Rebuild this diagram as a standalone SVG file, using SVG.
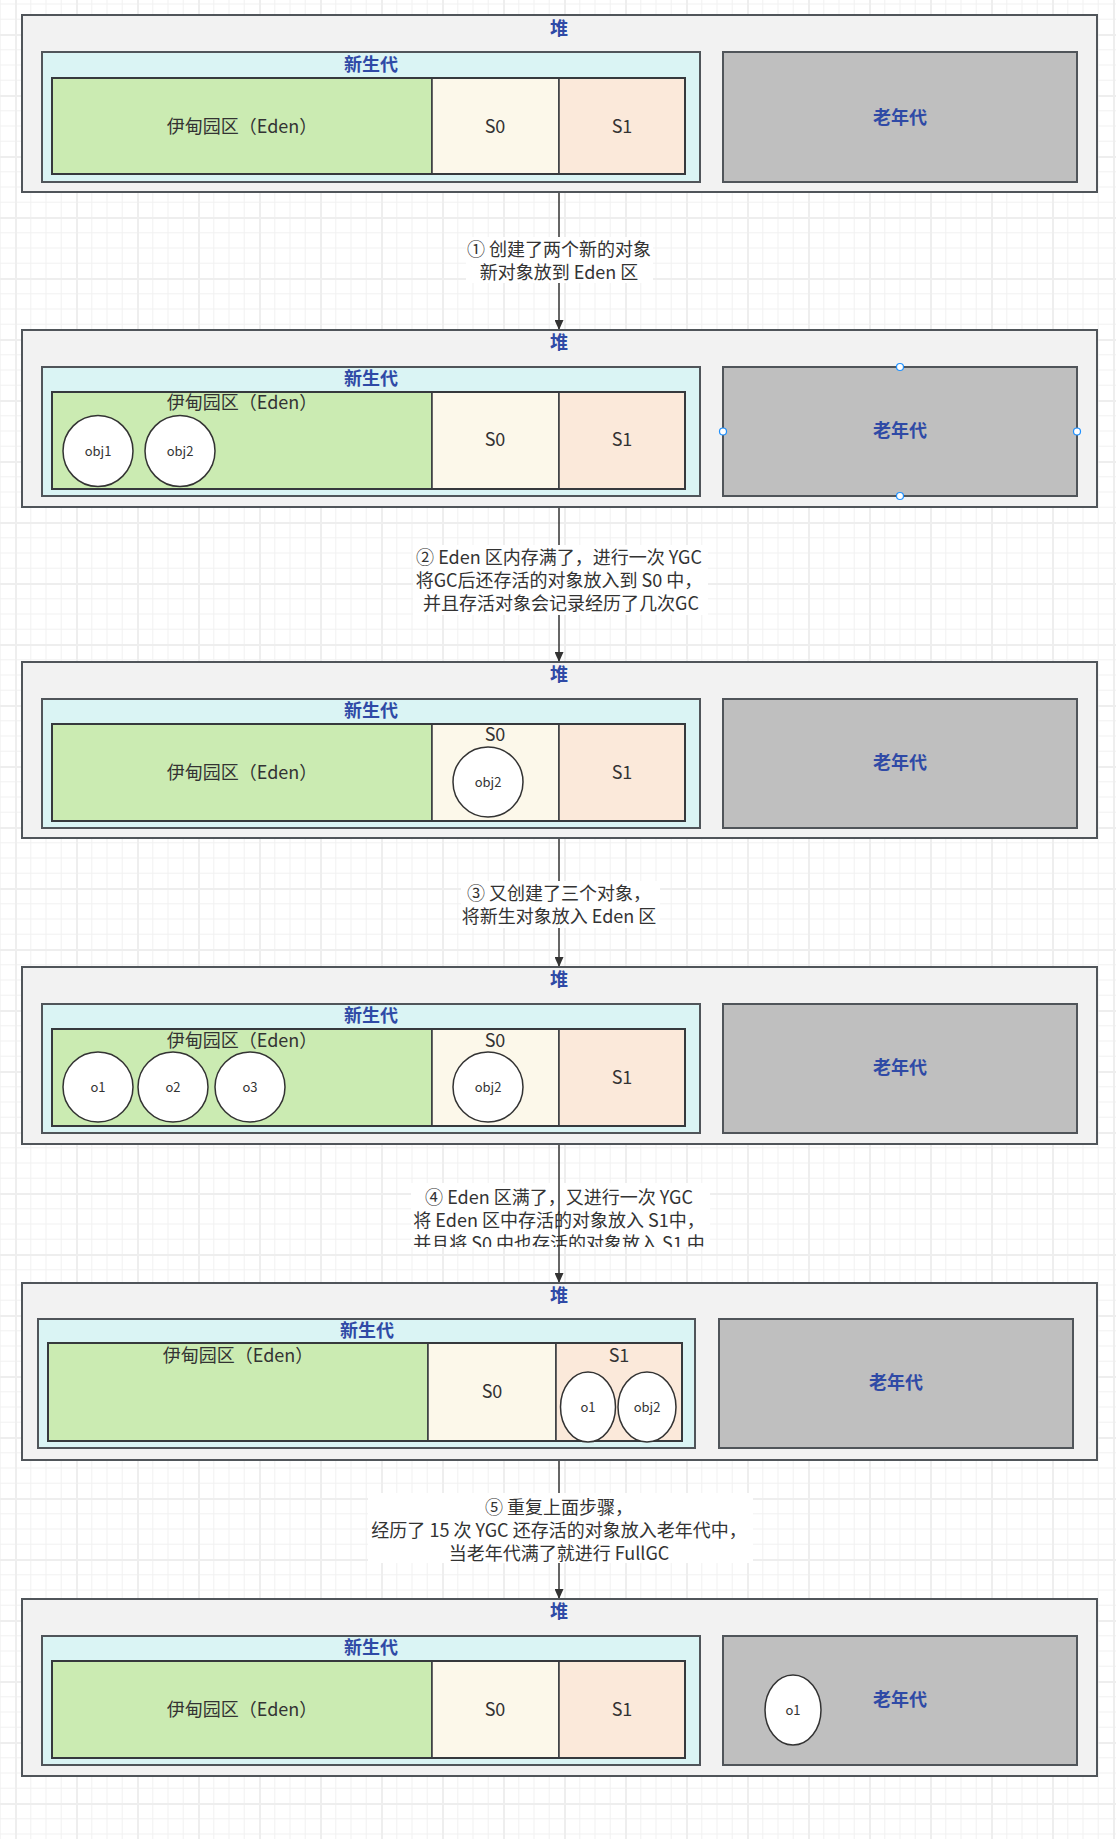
<svg xmlns="http://www.w3.org/2000/svg" width="1116" height="1839" viewBox="0 0 1116 1839">
<defs>
<style>
.heap{fill:#f2f2f2;stroke:#50555a;stroke-width:2}
.ng{fill:#daf4f4;stroke:#50555a;stroke-width:2}
.eden{fill:#cbebb2;stroke:#36393d;stroke-width:1.5}
.s0{fill:#fcf8ea;stroke:#36393d;stroke-width:1.5}
.s1{fill:#fbe9da;stroke:#36393d;stroke-width:1.5}
.old{fill:#bfbfbf;stroke:#50555a;stroke-width:2}
.row{fill:none;stroke:#36393d;stroke-width:2}
.obj{fill:#ffffff;stroke:#333333;stroke-width:1.5}
.t{font-family:"Noto Sans CJK SC","Liberation Sans",sans-serif;text-anchor:middle;dominant-baseline:central}
.title{font-size:18px;font-weight:bold;fill:#2f4aa6}
.lbl{font-size:18px;fill:#333333}
.small{font-size:13px;fill:#333333}
.el{font-size:18px;fill:#333333}
.lbox{fill:#ffffff}
.edge{stroke:#333333;stroke-width:1.5;fill:none}
.hdl{fill:#ffffff;stroke:#1e90ff;stroke-width:1.2}
</style>
<pattern id="grid" patternUnits="userSpaceOnUse" x="15" y="34" width="61" height="61">
<rect x="0" y="0" width="61" height="61" fill="#ffffff"/>
<rect x="15.25" y="0" width="1" height="61" fill="#f2f2f2"/>
<rect x="30.5" y="0" width="1" height="61" fill="#f2f2f2"/>
<rect x="45.75" y="0" width="1" height="61" fill="#f2f2f2"/>
<rect x="0" y="15.25" width="61" height="1" fill="#f2f2f2"/>
<rect x="0" y="30.5" width="61" height="1" fill="#f2f2f2"/>
<rect x="0" y="45.75" width="61" height="1" fill="#f2f2f2"/>
<rect x="0" y="0" width="2" height="61" fill="#eeeeee"/>
<rect x="0" y="0" width="61" height="2" fill="#eeeeee"/>
</pattern>
<marker id="arr" markerUnits="userSpaceOnUse" markerWidth="10" markerHeight="9" refX="10" refY="4.5" orient="auto">
<path d="M0,0 L10,4.5 L0,9 z" fill="#333333"/>
</marker>
<clipPath id="clip4"><rect x="411" y="1183" width="299" height="64"/></clipPath>
</defs>
<rect x="0" y="0" width="1116" height="1839" fill="url(#grid)"/>

<g id="connectors">
<g id="label4">
<rect class="lbox" x="411" y="1183" width="299" height="64"/>
<g clip-path="url(#clip4)">
<text class="t el" x="559" y="1196">④ Eden 区满了，又进行一次 YGC</text>
<text class="t el" x="559" y="1219">将 Eden 区中存活的对象放入 S1中，</text>
<text class="t el" x="559" y="1242">并且将 S0 中也存活的对象放入 S1 中</text>
</g>
</g>
<line class="edge" x1="559" y1="193" x2="559" y2="330" marker-end="url(#arr)"/>
<line class="edge" x1="559" y1="508" x2="559" y2="662" marker-end="url(#arr)"/>
<line class="edge" x1="559" y1="839" x2="559" y2="967" marker-end="url(#arr)"/>
<line class="edge" x1="559" y1="1145" x2="559" y2="1283" marker-end="url(#arr)"/>
<line class="edge" x1="559" y1="1461" x2="559" y2="1599" marker-end="url(#arr)"/>
<g id="label1">
<rect class="lbox" x="466" y="237" width="187" height="46"/>
<text class="t el" x="559" y="248">① 创建了两个新的对象</text>
<text class="t el" x="559" y="271">新对象放到 Eden 区</text>
</g>
<g id="label2">
<rect class="lbox" x="413" y="545" width="295" height="70"/>
<text class="t el" x="559" y="556">② Eden 区内存满了，进行一次 YGC</text>
<text class="t el" x="559" y="579">将GC后还存活的对象放入到 S0 中，</text>
<text class="t el" x="561" y="602">并且存活对象会记录经历了几次GC</text>
</g>
<g id="label3">
<rect class="lbox" x="461" y="881" width="199" height="47"/>
<text class="t el" x="559" y="892">③ 又创建了三个对象，</text>
<text class="t el" x="559" y="915">将新生对象放入 Eden 区</text>
</g>
<g id="label5">
<rect class="lbox" x="368" y="1493" width="385" height="70"/>
<text class="t el" x="559" y="1506">⑤ 重复上面步骤，</text>
<text class="t el" x="559" y="1529">经历了 15 次 YGC 还存活的对象放入老年代中，</text>
<text class="t el" x="559" y="1552">当老年代满了就进行 FullGC</text>
</g>
</g>

<!-- Panel 1 -->
<g id="heap1">
<rect class="heap" x="22" y="15" width="1075" height="177"/>
<text class="t title" x="559" y="27">堆</text>
<g id="ng1">
<rect class="ng" x="42" y="52" width="658" height="130"/>
<text class="t title" x="371" y="63">新生代</text>
<rect class="eden" x="52" y="78" width="380" height="96"/>
<rect class="s0" x="432" y="78" width="127" height="96"/>
<rect class="s1" x="559" y="78" width="126" height="96"/>
<rect class="row" x="52" y="78" width="633" height="96"/>
<text class="t lbl" x="242" y="125">伊甸园区（Eden）</text>
<text class="t lbl" x="495" y="125">S0</text>
<text class="t lbl" x="622" y="125">S1</text>
</g>
<g id="old1">
<rect class="old" x="723" y="52" width="354" height="130"/>
<text class="t title" x="900" y="116">老年代</text>
</g>
</g>

<!-- Panel 2 -->
<g id="heap2">
<rect class="heap" x="22" y="330" width="1075" height="177"/>
<text class="t title" x="559" y="341">堆</text>
<g id="ng2">
<rect class="ng" x="42" y="367" width="658" height="129"/>
<text class="t title" x="371" y="377">新生代</text>
<rect class="eden" x="52" y="392" width="380" height="97"/>
<rect class="s0" x="432" y="392" width="127" height="97"/>
<rect class="s1" x="559" y="392" width="126" height="97"/>
<rect class="row" x="52" y="392" width="633" height="97"/>
<text class="t lbl" x="242" y="401">伊甸园区（Eden）</text>
<text class="t lbl" x="495" y="438">S0</text>
<text class="t lbl" x="622" y="438">S1</text>
<g id="obj1-p2"><ellipse class="obj" cx="98" cy="451" rx="35" ry="35.5"/><text class="t small" x="98" y="450">obj1</text></g>
<g id="obj2-p2"><ellipse class="obj" cx="180" cy="451" rx="35" ry="35.5"/><text class="t small" x="180" y="450">obj2</text></g>
</g>
<g id="old2">
<rect class="old" x="723" y="367" width="354" height="129"/>
<text class="t title" x="900" y="429">老年代</text>
<circle class="hdl" cx="900" cy="367" r="3.5"/>
<circle class="hdl" cx="723" cy="431.5" r="3.5"/>
<circle class="hdl" cx="1077" cy="431.5" r="3.5"/>
<circle class="hdl" cx="900" cy="496" r="3.5"/>
</g>
</g>

<!-- Panel 3 -->
<g id="heap3">
<rect class="heap" x="22" y="662" width="1075" height="176"/>
<text class="t title" x="559" y="673">堆</text>
<g id="ng3">
<rect class="ng" x="42" y="699" width="658" height="129"/>
<text class="t title" x="371" y="709">新生代</text>
<rect class="eden" x="52" y="724" width="380" height="97"/>
<rect class="s0" x="432" y="724" width="127" height="97"/>
<rect class="s1" x="559" y="724" width="126" height="97"/>
<rect class="row" x="52" y="724" width="633" height="97"/>
<text class="t lbl" x="242" y="771">伊甸园区（Eden）</text>
<text class="t lbl" x="495" y="733">S0</text>
<text class="t lbl" x="622" y="771">S1</text>
<g id="obj2-p3"><ellipse class="obj" cx="488" cy="782" rx="35" ry="35"/><text class="t small" x="488" y="781">obj2</text></g>
</g>
<g id="old3">
<rect class="old" x="723" y="699" width="354" height="129"/>
<text class="t title" x="900" y="761">老年代</text>
</g>
</g>

<!-- Panel 4 -->
<g id="heap4">
<rect class="heap" x="22" y="967" width="1075" height="177"/>
<text class="t title" x="559" y="978">堆</text>
<g id="ng4">
<rect class="ng" x="42" y="1004" width="658" height="129"/>
<text class="t title" x="371" y="1014">新生代</text>
<rect class="eden" x="52" y="1029" width="380" height="97"/>
<rect class="s0" x="432" y="1029" width="127" height="97"/>
<rect class="s1" x="559" y="1029" width="126" height="97"/>
<rect class="row" x="52" y="1029" width="633" height="97"/>
<text class="t lbl" x="242" y="1039">伊甸园区（Eden）</text>
<text class="t lbl" x="495" y="1039">S0</text>
<text class="t lbl" x="622" y="1076">S1</text>
<g id="o1-p4"><ellipse class="obj" cx="98" cy="1087" rx="35" ry="35"/><text class="t small" x="98" y="1086">o1</text></g>
<g id="o2-p4"><ellipse class="obj" cx="173" cy="1087" rx="35" ry="35"/><text class="t small" x="173" y="1086">o2</text></g>
<g id="o3-p4"><ellipse class="obj" cx="250" cy="1087" rx="35" ry="35"/><text class="t small" x="250" y="1086">o3</text></g>
<g id="obj2-p4"><ellipse class="obj" cx="488" cy="1087" rx="35" ry="35"/><text class="t small" x="488" y="1086">obj2</text></g>
</g>
<g id="old4">
<rect class="old" x="723" y="1004" width="354" height="129"/>
<text class="t title" x="900" y="1066">老年代</text>
</g>
</g>

<!-- Panel 5 -->
<g id="heap5">
<rect class="heap" x="22" y="1283" width="1075" height="177"/>
<text class="t title" x="559" y="1294">堆</text>
<g id="ng5">
<rect class="ng" x="38" y="1319" width="657" height="129"/>
<text class="t title" x="367" y="1329">新生代</text>
<rect class="eden" x="48" y="1343" width="380" height="98"/>
<rect class="s0" x="428" y="1343" width="128" height="98"/>
<rect class="s1" x="556" y="1343" width="126" height="98"/>
<rect class="row" x="48" y="1343" width="634" height="98"/>
<text class="t lbl" x="238" y="1354">伊甸园区（Eden）</text>
<text class="t lbl" x="492" y="1390">S0</text>
<text class="t lbl" x="619" y="1354">S1</text>
<g id="o1-p5"><ellipse class="obj" cx="588" cy="1407" rx="27.5" ry="35"/><text class="t small" x="588" y="1406">o1</text></g>
<g id="obj2-p5"><ellipse class="obj" cx="647" cy="1407" rx="29" ry="35"/><text class="t small" x="647" y="1406">obj2</text></g>
</g>
<g id="old5">
<rect class="old" x="719" y="1319" width="354" height="129"/>
<text class="t title" x="896" y="1381">老年代</text>
</g>
</g>

<!-- Panel 6 -->
<g id="heap6">
<rect class="heap" x="22" y="1599" width="1075" height="177"/>
<text class="t title" x="559" y="1610">堆</text>
<g id="ng6">
<rect class="ng" x="42" y="1636" width="658" height="129"/>
<text class="t title" x="371" y="1646">新生代</text>
<rect class="eden" x="52" y="1661" width="380" height="97"/>
<rect class="s0" x="432" y="1661" width="127" height="97"/>
<rect class="s1" x="559" y="1661" width="126" height="97"/>
<rect class="row" x="52" y="1661" width="633" height="97"/>
<text class="t lbl" x="242" y="1708">伊甸园区（Eden）</text>
<text class="t lbl" x="495" y="1708">S0</text>
<text class="t lbl" x="622" y="1708">S1</text>
</g>
<g id="old6">
<rect class="old" x="723" y="1636" width="354" height="129"/>
<text class="t title" x="900" y="1698">老年代</text>
<g id="o1-p6"><ellipse class="obj" cx="793" cy="1710" rx="28" ry="35"/><text class="t small" x="793" y="1709">o1</text></g>
</g>
</g>
</svg>
